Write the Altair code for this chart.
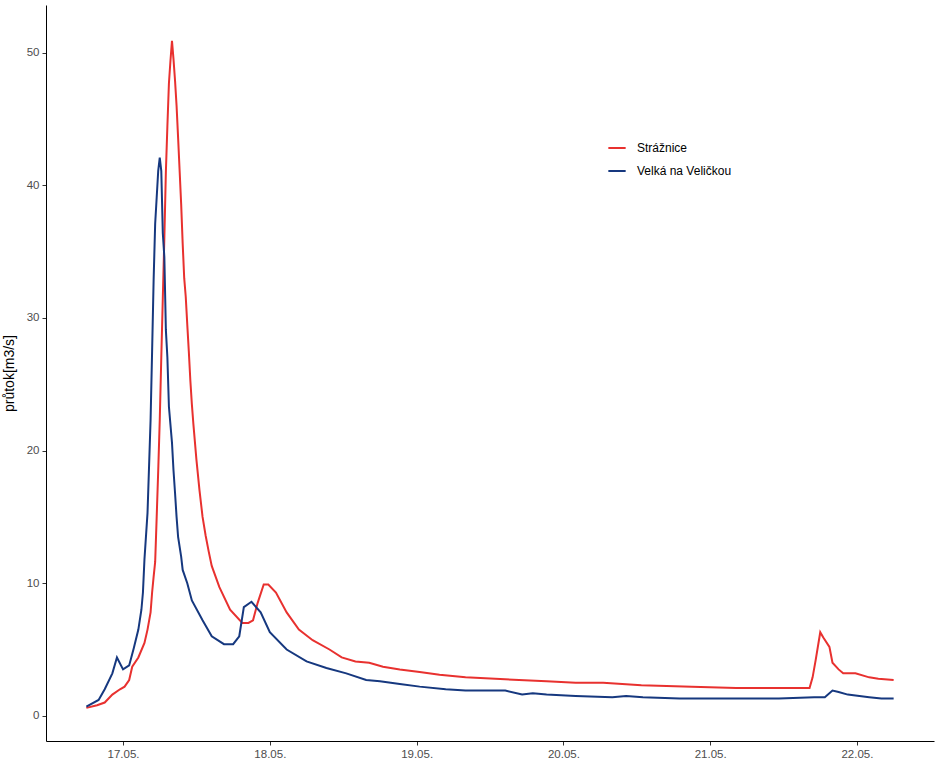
import altair as alt
import pandas as pd

# hours relative to 17.05. 00:00
velka_t = [-6, -4, -3, -1.75, -1, 0, 1, 1.75, 2.5, 3.0, 3.25, 3.5, 4.0, 4.25, 4.5, 4.75, 5.0, 5.25,
           5.5, 5.75, 6.0, 6.25, 6.5, 6.75, 7.0, 7.25, 7.5, 8.0, 8.25, 8.5, 8.75, 9.0, 9.5, 9.75,
           10.5, 11.25, 13.0, 14.5, 16.5, 18.0, 19.0, 19.75, 21.0, 22.5, 24.0, 26.75, 30.0, 33.25,
           36.5, 39.75, 42.0, 45.25, 48.5, 52.75, 56.0, 62.5, 65.25, 67.0, 69.25, 74.0, 80.0, 82.25,
           85.0, 91.0, 107.25, 113.0, 114.75, 116.0, 117.0, 118.5, 122.0, 124.0, 126.0]
velka_q = [0.7, 1.2, 2.0, 3.2, 4.4, 3.5, 3.8, 5.1, 6.5, 8.0, 9.3, 11.8, 15.3, 18.8, 22.3, 27.5, 32.9, 37.1,
           39.1, 41.1, 42.1, 41.1, 36.4, 34.6, 29.1, 27.0, 23.3, 20.6, 18.5, 16.8, 15.0, 13.5, 12.0, 11.0,
           10.0, 8.7, 7.2, 6.0, 5.4, 5.4, 6.0, 8.2, 8.6, 7.8, 6.3, 5.0, 4.1, 3.6,
           3.2, 2.7, 2.6, 2.4, 2.2, 2.0, 1.9, 1.9, 1.6, 1.7, 1.6, 1.5, 1.4, 1.5,
           1.4, 1.3, 1.3, 1.4, 1.4, 1.9, 1.8, 1.6, 1.4, 1.3, 1.3]

straz_t = [-6, -4.25, -3, -1.75, -0.5, 0.25, 1.0, 1.5, 2.5, 3.5, 4.0, 4.5, 4.75, 5.0, 5.25, 5.5, 5.75,
           6.0, 6.25, 6.5, 6.75, 7.0, 7.25, 7.5, 7.75, 8.0, 8.25, 8.5, 8.75, 9.0, 9.25, 9.5, 9.75,
           10.0, 10.25, 10.5, 10.75, 11.0, 11.25, 11.5, 12.0, 12.5, 13.0, 13.5, 14.0, 14.5, 15.75,
           17.5, 19.5, 20.5, 21.25, 22.0, 23.0, 23.75, 25.0, 26.75, 28.75, 31.0, 33.75, 35.75, 38.0,
           40.25, 42.5, 45.25, 48.5, 51.75, 56.0, 64.75, 69.25, 74.0, 78.5, 84.75, 93.0, 100.25,
           109.75, 112.25, 112.75, 113.25, 114.0, 114.5, 115.5, 116.0, 117.0, 117.75, 119.75, 122.0,
           123.5, 126.0]
straz_q = [0.6, 0.8, 1.0, 1.6, 2.0, 2.2, 2.7, 3.7, 4.4, 5.5, 6.5, 7.8, 9.3, 10.5, 11.6, 15.0, 18.5,
           22.3, 27.0, 31.5, 36.0, 41.0, 44.5, 47.7, 49.4, 50.9, 49.5, 47.9, 46.0, 43.6, 41.1, 38.6, 35.6,
           33.0, 31.6, 29.5, 27.5, 25.3, 23.5, 22.0, 19.3, 17.0, 15.0, 13.6, 12.4, 11.3, 9.7,
           8.0, 7.0, 7.0, 7.2, 8.5, 9.9, 9.9, 9.3, 7.8, 6.5, 5.7, 5.0, 4.4, 4.1,
           4.0, 3.7, 3.5, 3.3, 3.1, 2.9, 2.7, 2.6, 2.5, 2.5, 2.3, 2.2, 2.1,
           2.1, 2.1, 2.9, 4.2, 6.3, 5.9, 5.2, 4.0, 3.5, 3.2, 3.2, 2.9,
           2.8, 2.7]

series = ["Strážnice", "Velká na Veličkou"]
colors = ["#e8312f", "#16387f"]
tick_hours = [0, 24, 48, 72, 96, 120]
tick_labels = ["17.05.", "18.05.", "19.05.", "20.05.", "21.05.", "22.05."]

df = pd.concat([
    pd.DataFrame({"t": straz_t, "q": straz_q, "stanice": series[0]}),
    pd.DataFrame({"t": velka_t, "q": velka_q, "stanice": series[1]}),
])

label_expr = "[" + ",".join("'" + s + "'" for s in tick_labels) + "][round(datum.value/24)]"
FONT = "Liberation Sans"

chart = alt.Chart(df).mark_line(strokeWidth=2).encode(
    x=alt.X("t:Q", title=None,
            scale=alt.Scale(domain=[-12.6, 132.6], nice=False, zero=False),
            axis=alt.Axis(values=tick_hours, labelExpr=label_expr, grid=False,
                          domainColor="black", domainWidth=1, tickColor="#333333",
                          tickSize=4, labelColor="#4d4d4d", labelFontSize=11.5,
                          labelFont=FONT, labelPadding=3)),
    y=alt.Y("q:Q", title="průtok[m3/s]",
            scale=alt.Scale(domain=[-1.9, 53.6], nice=False, zero=False),
            axis=alt.Axis(values=[0, 10, 20, 30, 40, 50], grid=False,
                          domainColor="black", domainWidth=1, tickColor="#333333",
                          tickSize=4, labelColor="#4d4d4d", labelFontSize=11.5,
                          labelFont=FONT, labelPadding=3, titleFont=FONT,
                          titleFontSize=14, titleFontWeight="normal", titleColor="black",
                          titlePadding=10)),
    color=alt.Color("stanice:N", title=None,
                    scale=alt.Scale(domain=series, range=colors),
                    legend=alt.Legend(orient="none", legendX=561, legendY=133,
                                      symbolType="stroke", symbolStrokeWidth=2,
                                      symbolSize=300, labelFont=FONT, labelFontSize=12,
                                      labelColor="black", rowPadding=7, labelOffset=10)),
).properties(
    width=888, height=736,
    background="white",
    autosize=alt.AutoSizeParams(type="none"),
    padding={"left": 46, "top": 5, "right": 9, "bottom": 27},
).configure_view(stroke=None, strokeWidth=0)

chart.save("out.html", embed_options={"renderer": "svg", "actions": False})
